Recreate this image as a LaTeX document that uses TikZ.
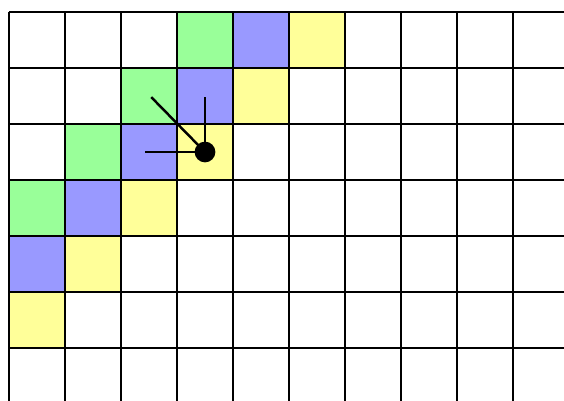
\documentclass[tikz,border=0pt]{standalone}
\usepackage{xcolor}
\usepackage{tikz}
\usetikzlibrary{calc,positioning}
\definecolor{cellgreen}{HTML}{99FF99}
\definecolor{cellblue}{HTML}{9999FF}
\definecolor{cellyellow}{HTML}{FFFF99}
\tikzset{
  gridline/.style={line width=1.25pt,black},
  greencell/.style={fill=cellgreen},
  bluecell/.style={fill=cellblue},
  yellowcell/.style={fill=cellyellow},
  ray/.style={line width=1.25pt,black},
  agent/.style={circle,fill=black,inner sep=0pt,minimum size=0.37cm}
}
\begin{document}
\begin{tikzpicture}
  \useasboundingbox (-0.1607,0.2143) rectangle (9.9107,-6.9286);
  \clip (-0.1607,0.2143) rectangle (9.9107,-6.9286);
  \fill[white] (-0.1607,0.2143) rectangle (9.9107,-6.9286);
  % diagonal bands
  \fill[greencell] (3,0) rectangle (4,-1);
  \fill[bluecell] (4,0) rectangle (5,-1);
  \fill[yellowcell] (5,0) rectangle (6,-1);
  \fill[greencell] (2,-1) rectangle (3,-2);
  \fill[bluecell] (3,-1) rectangle (4,-2);
  \fill[yellowcell] (4,-1) rectangle (5,-2);
  \fill[greencell] (1,-2) rectangle (2,-3);
  \fill[bluecell] (2,-2) rectangle (3,-3);
  \fill[yellowcell] (3,-2) rectangle (4,-3);
  \fill[greencell] (0,-3) rectangle (1,-4);
  \fill[bluecell] (1,-3) rectangle (2,-4);
  \fill[yellowcell] (2,-3) rectangle (3,-4);
  \fill[bluecell] (0,-4) rectangle (1,-5);
  \fill[yellowcell] (1,-4) rectangle (2,-5);
  \fill[yellowcell] (0,-5) rectangle (1,-6);
  \draw[gridline] (0,-8) grid (11,0);
  % agent and its rays
  \node[agent] (A) at (3.5,-2.5) {};
  \coordinate (L) at (2.43,-2.5);
  \coordinate (U) at (3.5,-1.52);
  \coordinate (D) at (2.54,-1.52);
  \draw[ray] (A.center) -- (L);
  \draw[ray] (A.center) -- (U);
  \draw[ray] (A.center) -- (D);
\end{tikzpicture}
\end{document}
